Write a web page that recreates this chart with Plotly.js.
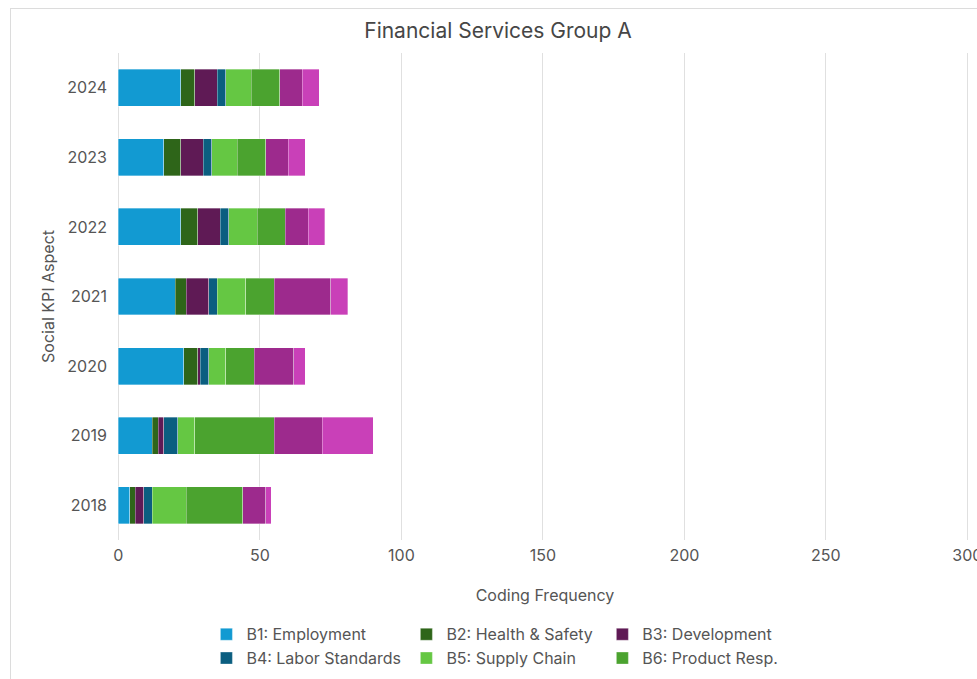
<!DOCTYPE html>
<html>
<head>
<meta charset="utf-8">
<script src="https://cdn.plot.ly/plotly-3.0.1.min.js"></script>
<style>
  html, body { margin: 0; padding: 0; background: #ffffff; overflow: hidden; }
  #frame { position: absolute; left: 10px; top: 8px; width: 1200px; height: 1200px;
           border-left: 1px solid #dcdcdc; border-top: 1px solid #dcdcdc; }
  #chart { position: absolute; left: 0; top: 0; width: 977px; height: 679px; }
</style>
</head>
<body>
<div id="frame"></div>
<div id="chart"></div>
<script>
// ---- data ----
const years = ['2018', '2019', '2020', '2021', '2022', '2023', '2024'];
const seriesNames = ['B1: Employment', 'B2: Health & Safety', 'B3: Development',
  'B4: Labor Standards', 'B5: Supply Chain', 'B6: Product Resp.',
  'B7: Anti-corruption', 'B8: Community Investment'];
const b1 = [4, 12, 23, 20, 22, 16, 22];
const b2 = [2, 2, 5, 4, 6, 6, 5];
const b3 = [3, 2, 1, 8, 8, 8, 8];
const b4 = [3, 5, 3, 3, 3, 3, 3];
const b5 = [12, 6, 6, 10, 10, 9, 9];
const b6 = [20, 28, 10, 10, 10, 10, 10];
const b7 = [8, 17, 14, 20, 8, 8, 8];
const b8 = [2, 18, 4, 6, 6, 6, 6];
const xTicks = [0, 50, 100, 150, 200, 250, 300];
const seriesValues = [b1, b2, b3, b4, b5, b6, b7, b8];
const colors = ['#129ad2', '#2e6519', '#5f1a55', '#0b5e80', '#65c743', '#4ba32f', '#9d2a8d', '#c940b8'];
// legend columns as seen in the picture (B7/B8 entries are cut off below the view)
const legendOf = ['legend', 'legend2', 'legend3', 'legend', 'legend2', 'legend3', null, null];

const font = 'Inter, Liberation Sans, Arial, sans-serif';
const traces = seriesValues.map((vals, i) => ({
  type: 'bar',
  orientation: 'h',
  name: seriesNames[i],
  x: vals,
  y: years,
  marker: { color: colors[i], line: { color: 'rgba(255,255,255,0.55)', width: 0.6 } },
  legend: legendOf[i] || 'legend',
  showlegend: legendOf[i] !== null,
  hoverinfo: 'x+name'
}));

// plot area: x = 0 at 118px, x = 300 at 967px; range padded slightly so the 0 and 300 grid lines are drawn
const XMIN = -0.5, XMAX = 302, PXU = 849 / 300;
const PL = 118 + XMIN * PXU, PR = 118 + XMAX * PXU, PT = 52.5, PB = 540.5;
function leg(xpx, ypx) {
  return {
    orientation: 'v', xref: 'paper', yref: 'paper',
    x: (xpx - PL) / (PR - PL), xanchor: 'left',
    y: (PB - ypx) / (PB - PT), yanchor: 'top',
    font: { family: font, size: 16, color: '#555555' },
    bgcolor: 'rgba(0,0,0,0)', borderwidth: 0, traceorder: 'normal'
  };
}

const layout = {
  width: 977, height: 679,
  paper_bgcolor: 'rgba(0,0,0,0)', plot_bgcolor: 'rgba(0,0,0,0)',
  margin: { l: PL, r: 977 - PR, t: PT, b: 679 - PB, autoexpand: false },
  barmode: 'stack',
  bargap: 0.47,
  font: { family: font, color: '#555555' },
  title: {
    text: 'Financial Services Group A',
    font: { family: font, size: 21, color: '#464646' },
    xref: 'container', yref: 'container', x: 498 / 977, xanchor: 'center',
    y: 1 - 31 / 679, yanchor: 'middle'
  },
  xaxis: {
    range: [XMIN, XMAX], tickvals: xTicks,
    showgrid: true, gridcolor: '#e0e0e0', gridwidth: 1,
    zeroline: false, showline: false, ticks: '',
    tickfont: { family: font, size: 16, color: '#555555' },
    ticklabelstandoff: 4,
    ticklabeloverflow: 'allow',
    title: { text: 'Coding Frequency', font: { family: font, size: 16, color: '#555555' }, standoff: 25 },
    fixedrange: true
  },
  yaxis: {
    type: 'category', categoryorder: 'array', categoryarray: years,
    range: [-0.5, 6.5],
    showgrid: false, zeroline: false, showline: false, ticks: '',
    tickfont: { family: font, size: 16, color: '#555555' },
    ticklabelstandoff: 9,
    title: { text: 'Social KPI Aspect', font: { family: font, size: 16, color: '#555555' }, standoff: 8 },
    fixedrange: true
  },
  legend: leg(206, 618),
  legend2: leg(406, 618),
  legend3: leg(602, 618),
  showlegend: true
};

Plotly.newPlot('chart', traces, layout, { displayModeBar: false });
</script>
</body>
</html>
